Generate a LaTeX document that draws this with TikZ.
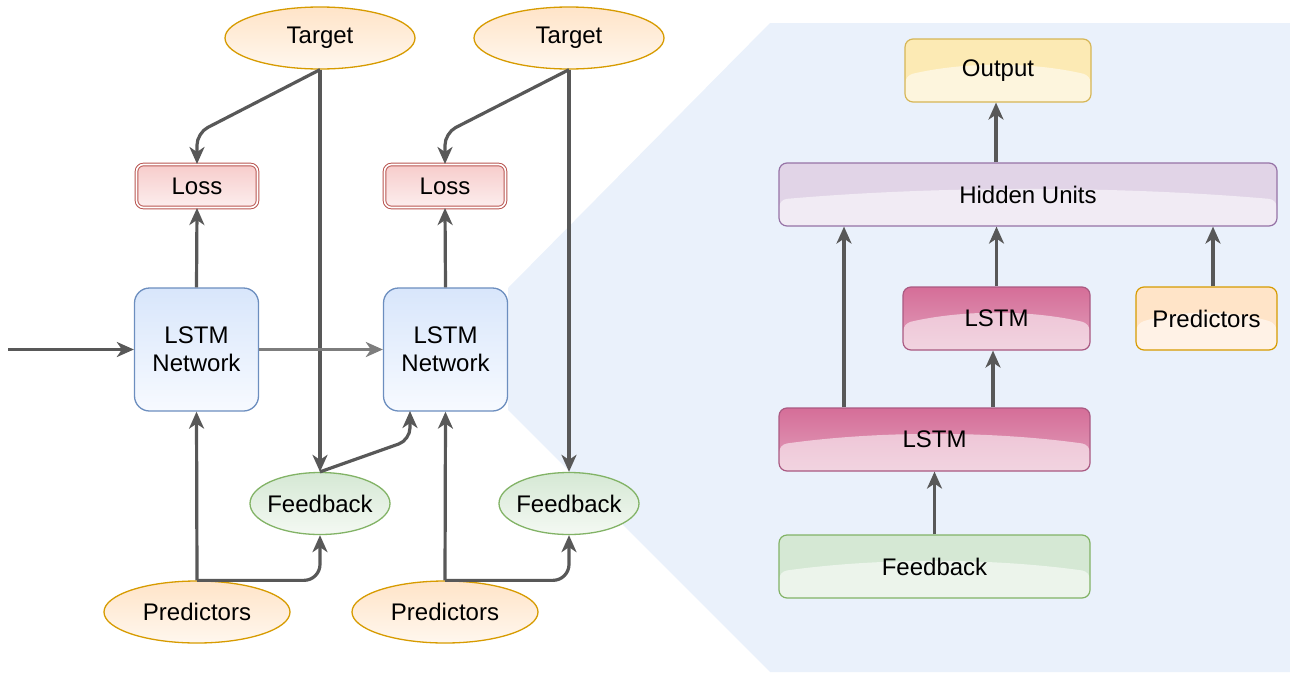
\documentclass[tikz,border=0pt]{standalone}
\usepackage{fontspec}
\setmainfont{Liberation Sans}
\usetikzlibrary{arrows.meta,shapes.geometric,calc}

\definecolor{bgblue}{RGB}{234,241,251}
\definecolor{linegray}{RGB}{88,88,88}
\definecolor{lightline}{RGB}{125,125,125}
\definecolor{orgfill}{RGB}{255,228,200}
\definecolor{orgfillb}{RGB}{255,247,238}
\definecolor{orgborder}{RGB}{215,155,0}
\definecolor{grnfill}{RGB}{213,232,212}
\definecolor{grnfillb}{RGB}{244,249,243}
\definecolor{grnborder}{RGB}{130,179,102}
\definecolor{bluefill}{RGB}{216,230,251}
\definecolor{bluefillb}{RGB}{247,250,255}
\definecolor{blueborder}{RGB}{108,142,191}
\definecolor{redfill}{RGB}{247,204,203}
\definecolor{redfillb}{RGB}{252,238,238}
\definecolor{redborder}{RGB}{184,84,80}
\definecolor{yelfill}{RGB}{252,234,180}
\definecolor{yelborder}{RGB}{214,182,86}
\definecolor{purfill}{RGB}{225,212,231}
\definecolor{purborder}{RGB}{150,115,166}
\definecolor{pinkfill}{RGB}{213,110,152}
\definecolor{pinkfillb}{RGB}{226,160,188}
\definecolor{pinkborder}{RGB}{170,90,130}

\tikzset{
  x=1pt, y=-1pt,
  every node/.style={font=\fontsize{24}{28}\selectfont, text=black, align=center, inner sep=0pt},
  conn/.style={draw=linegray, line width=3.2pt, rounded corners=12pt,
    -{Stealth[length=17pt,width=15pt,inset=5pt]}},
  softconn/.style={conn, draw=lightline},
  oval/.style={ellipse, line width=1.3pt, minimum height=62pt, inner xsep=-10pt},
  orgoval/.style={oval, draw=orgborder, top color=orgfill, bottom color=orgfillb},
  grnoval/.style={oval, draw=grnborder, top color=grnfill, bottom color=grnfillb},
  netbox/.style={rectangle, rounded corners=15pt, draw=blueborder, line width=1.3pt,
    top color=bluefill, bottom color=bluefillb, minimum width=124pt, minimum height=123pt},
  lossbox/.style={rectangle, rounded corners=7pt, draw=redborder, double=white,
    double distance=1.6pt, line width=1pt, top color=redfill, bottom color=redfillb,
    minimum width=121pt, minimum height=43pt},
  gloss/.style={rectangle, rounded corners=8pt, line width=1.2pt, minimum height=63pt,
    path picture={
      \fill[white, opacity=0.55]
        (path picture bounding box.south west)
        -- ($(path picture bounding box.south west)!0.42!(path picture bounding box.north west)$)
        .. controls ($(path picture bounding box.south west)!0.64!(path picture bounding box.north)$)
        and ($(path picture bounding box.south east)!0.64!(path picture bounding box.north)$)
        .. ($(path picture bounding box.south east)!0.42!(path picture bounding box.north east)$)
        -- (path picture bounding box.south east) -- cycle;
    }},
  yelbox/.style={gloss, draw=yelborder, fill=yelfill},
  purbox/.style={gloss, draw=purborder, fill=purfill},
  pinkbox/.style={gloss, draw=pinkborder, top color=pinkfill, bottom color=pinkfillb},
  orgbox/.style={gloss, draw=orgborder, fill=orgfill},
  grnbox/.style={gloss, draw=grnborder, fill=grnfill},
}

\begin{document}
\begin{tikzpicture}
\useasboundingbox (0,0) rectangle (1290,672);

% zoomed-in panel behind the right half
\fill[bgblue] (770,23) -- (1290,23) -- (1290,672) -- (770,672)
  -- (508,410) -- (508,288) -- cycle;

% ---- unrolled network, left ----
\node[orgoval, minimum width=190pt] (t1) at (320,38) {Target};
\node[orgoval, minimum width=190pt] (t2) at (569,38) {Target};
\node[lossbox] (l1) at (197,186) {Loss};
\node[lossbox] (l2) at (445,186) {Loss};
\node[netbox] (n1) at (196.5,349.5) {LSTM\\Network};
\node[netbox] (n2) at (445.5,349.5) {LSTM\\Network};
\node[grnoval, minimum width=140pt] (f1) at (320,503.5) {Feedback};
\node[grnoval, minimum width=140pt] (f2) at (569,503.5) {Feedback};
\node[orgoval, minimum width=186pt] (p1) at (197,612) {Predictors};
\node[orgoval, minimum width=186pt] (p2) at (445,612) {Predictors};
\coordinate (start) at (8,349.5);

\draw[conn] (start) -- (n1.west);
\draw[conn] (t1.south) -- (f1.north);
\draw[conn] (t2.south) -- (f2.north);
\draw[softconn] (n1.east) -- (n2.west);
\draw[conn] (n1.north) -- (l1.north |- l1.south);
\draw[conn] (n2.north) -- (l2.north |- l2.south);
\draw[conn] (t1.south) -- (197,133) -- (l1.north);
\draw[conn] (t2.south) -- (445,133) -- (l2.north);
\draw[conn] (p1.north) -- (n1.south);
\draw[conn] (p2.north) -- (n2.south);
\draw[conn, rounded corners=16pt] (p1.north) -- (f1.south |- p1.north) -- (f1.south);
\draw[conn, rounded corners=16pt] (p2.north) -- (f2.south |- p2.north) -- (f2.south);
\draw[conn] (f1.north) -- (410,440) -- (410,411);

% ---- detail of one network, right ----
\node[yelbox, minimum width=186pt] (out) at (998,70.5) {Output};
\node[purbox, minimum width=498pt] (hid) at (1028,194.5) {Hidden Units};
\node[pinkbox, minimum width=187pt] (lstmA) at (996.5,318.5) {LSTM};
\node[orgbox, minimum width=141pt] (pred) at (1206.5,318.5) {Predictors};
\node[pinkbox, minimum width=311pt] (lstmB) at (934.5,439.5) {LSTM};
\node[grnbox, minimum width=311pt] (fb) at (934.5,566.5) {Feedback};

\draw[conn] (hid.north -| 996,0) -- (out.south -| 996,0);
\draw[conn] ([xshift=-90.5pt]lstmB.north) -- ([xshift=-90.5pt]lstmB.north |- hid.south);
\draw[conn] ([xshift=58.5pt]lstmB.north) -- ([xshift=58.5pt]lstmB.north |- lstmA.south);
\draw[conn] (lstmA.north) -- (lstmA.north |- hid.south);
\draw[conn] ([xshift=6.5pt]pred.north) -- ([xshift=6.5pt]pred.north |- hid.south);
\draw[conn] (fb.north) -- (lstmB.south);
\end{tikzpicture}
\end{document}
